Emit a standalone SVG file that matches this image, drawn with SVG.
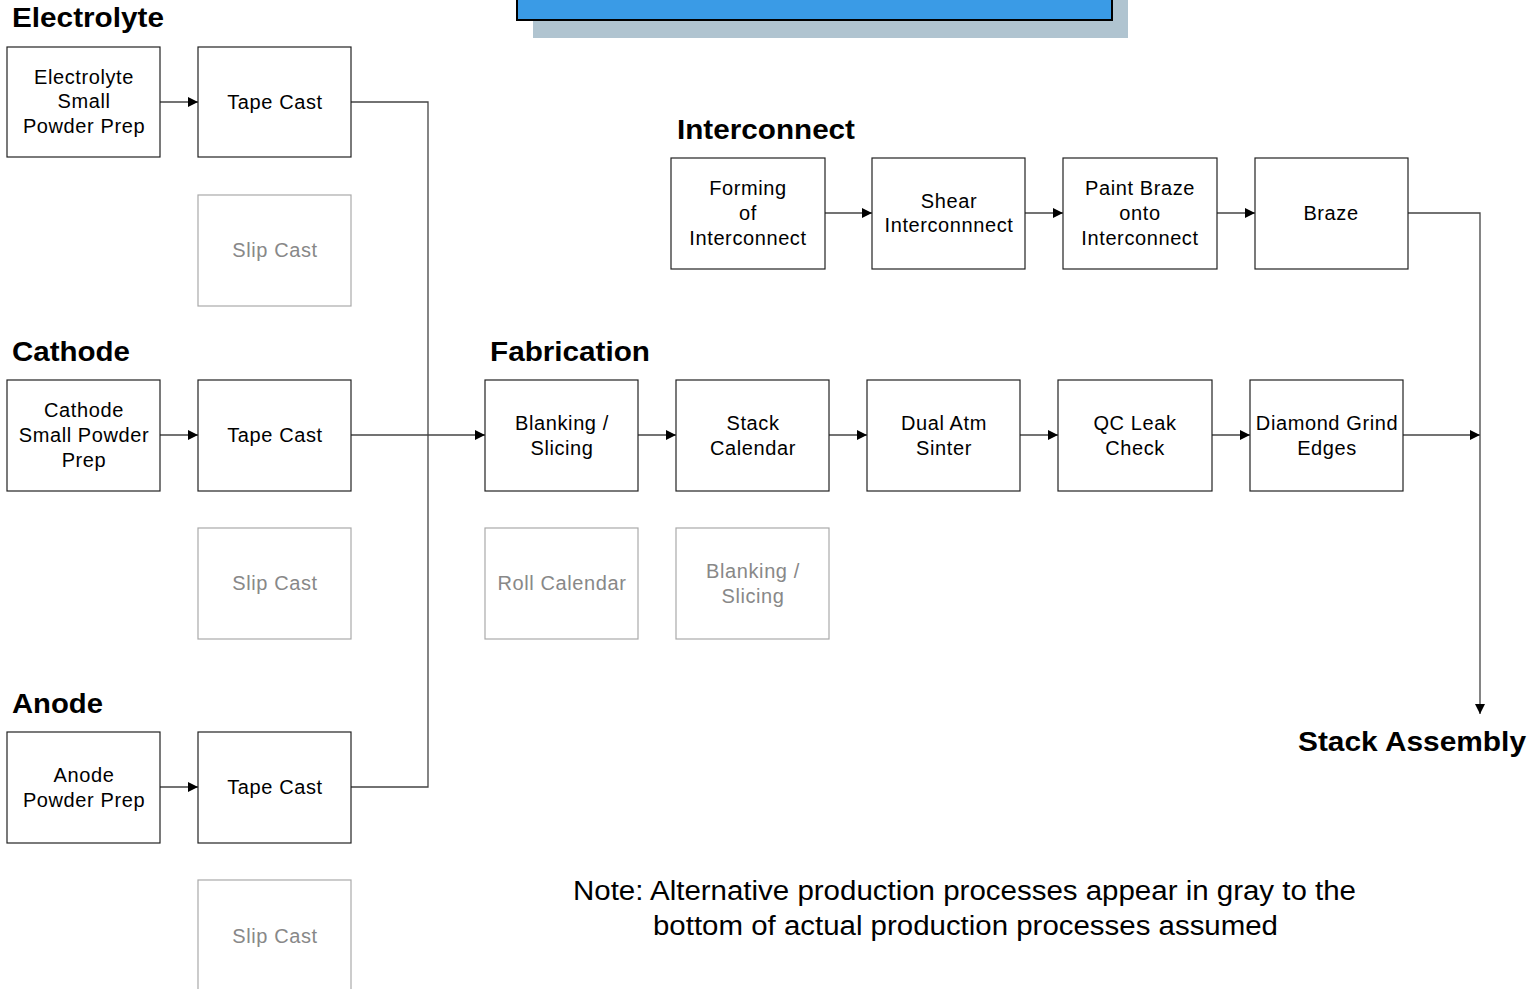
<svg xmlns="http://www.w3.org/2000/svg" width="1536" height="989" viewBox="0 0 1536 989">
<style>
.box{fill:#fff;stroke:#222;stroke-width:1.2}
.gbox{fill:#fff;stroke:#aaa;stroke-width:1.2}
.t{font-family:"Liberation Sans",Arial,sans-serif;font-size:20px;letter-spacing:0.6px;fill:#000;text-anchor:middle}
.gt{font-family:"Liberation Sans",Arial,sans-serif;font-size:20px;letter-spacing:0.6px;fill:#888;text-anchor:middle}
.h{font-family:"Liberation Sans",Arial,sans-serif;font-size:27px;font-weight:bold;fill:#000}
.note{font-family:"Liberation Sans",Arial,sans-serif;font-size:27px;fill:#000}
.c{fill:none;stroke:#444;stroke-width:1.3}
</style>
<defs>
<marker id="ah" markerWidth="10" markerHeight="10" refX="10" refY="5" orient="auto" markerUnits="userSpaceOnUse">
<path d="M0,0 L10,5 L0,10 z" fill="#000"/>
</marker>
</defs>
<rect width="1536" height="989" fill="#fff"/>
<g id="banner">
<rect x="533" y="-10" width="595" height="48" fill="#b0c4d0"/>
<rect x="517" y="-10" width="595" height="30" fill="#3a9be6" stroke="#000" stroke-width="2"/>
</g>
<g id="headings">
<text class="h" x="12" y="27" textLength="152" lengthAdjust="spacingAndGlyphs">Electrolyte</text>
<text class="h" x="12" y="361" textLength="118" lengthAdjust="spacingAndGlyphs">Cathode</text>
<text class="h" x="12" y="713" textLength="91" lengthAdjust="spacingAndGlyphs">Anode</text>
<text class="h" x="677" y="139" textLength="178" lengthAdjust="spacingAndGlyphs">Interconnect</text>
<text class="h" x="490" y="361" textLength="160" lengthAdjust="spacingAndGlyphs">Fabrication</text>
<text class="h" x="1298" y="751" textLength="228" lengthAdjust="spacingAndGlyphs">Stack Assembly</text>
</g>
<g id="connectors">
<path class="c" d="M160,102 H198" marker-end="url(#ah)"/>
<path class="c" d="M160,435 H198" marker-end="url(#ah)"/>
<path class="c" d="M160,787 H198" marker-end="url(#ah)"/>
<path class="c" d="M351,102 H428 V787 H351"/>
<path class="c" d="M351,435 H485" marker-end="url(#ah)"/>
<path class="c" d="M638,435 H676" marker-end="url(#ah)"/>
<path class="c" d="M829,435 H867" marker-end="url(#ah)"/>
<path class="c" d="M1020,435 H1058" marker-end="url(#ah)"/>
<path class="c" d="M1212,435 H1250" marker-end="url(#ah)"/>
<path class="c" d="M1403,435 H1480" marker-end="url(#ah)"/>
<path class="c" d="M825,213 H872" marker-end="url(#ah)"/>
<path class="c" d="M1025,213 H1063" marker-end="url(#ah)"/>
<path class="c" d="M1217,213 H1255" marker-end="url(#ah)"/>
<path class="c" d="M1408,213 H1480 V714" marker-end="url(#ah)"/>
</g>
<g id="e-prep"><rect class="box" x="7" y="47" width="153" height="110"/><text class="t" x="84" y="84">Electrolyte</text><text class="t" x="84" y="108">Small</text><text class="t" x="84" y="133">Powder Prep</text></g>
<g id="e-tape"><rect class="box" x="198" y="47" width="153" height="110"/><text class="t" x="275" y="109">Tape Cast</text></g>
<g id="e-slip"><rect class="gbox" x="198" y="195" width="153" height="111"/><text class="gt" x="275" y="257">Slip Cast</text></g>
<g id="c-prep"><rect class="box" x="7" y="380" width="153" height="111"/><text class="t" x="84" y="417">Cathode</text><text class="t" x="84" y="442">Small Powder</text><text class="t" x="84" y="467">Prep</text></g>
<g id="c-tape"><rect class="box" x="198" y="380" width="153" height="111"/><text class="t" x="275" y="442">Tape Cast</text></g>
<g id="c-slip"><rect class="gbox" x="198" y="528" width="153" height="111"/><text class="gt" x="275" y="590">Slip Cast</text></g>
<g id="a-prep"><rect class="box" x="7" y="732" width="153" height="111"/><text class="t" x="84" y="782">Anode</text><text class="t" x="84" y="807">Powder Prep</text></g>
<g id="a-tape"><rect class="box" x="198" y="732" width="153" height="111"/><text class="t" x="275" y="794">Tape Cast</text></g>
<g id="a-slip"><rect class="gbox" x="198" y="880" width="153" height="120"/><text class="gt" x="275" y="943">Slip Cast</text></g>
<g id="i-form"><rect class="box" x="671" y="158" width="154" height="111"/><text class="t" x="748" y="195">Forming</text><text class="t" x="748" y="220">of</text><text class="t" x="748" y="245">Interconnect</text></g>
<g id="i-shear"><rect class="box" x="872" y="158" width="153" height="111"/><text class="t" x="949" y="208">Shear</text><text class="t" x="949" y="232">Interconnnect</text></g>
<g id="i-paint"><rect class="box" x="1063" y="158" width="154" height="111"/><text class="t" x="1140" y="195">Paint Braze</text><text class="t" x="1140" y="220">onto</text><text class="t" x="1140" y="245">Interconnect</text></g>
<g id="i-braze"><rect class="box" x="1255" y="158" width="153" height="111"/><text class="t" x="1331" y="220">Braze</text></g>
<g id="f-blank"><rect class="box" x="485" y="380" width="153" height="111"/><text class="t" x="562" y="430">Blanking /</text><text class="t" x="562" y="455">Slicing</text></g>
<g id="f-stack"><rect class="box" x="676" y="380" width="153" height="111"/><text class="t" x="753" y="430">Stack</text><text class="t" x="753" y="455">Calendar</text></g>
<g id="f-sinter"><rect class="box" x="867" y="380" width="153" height="111"/><text class="t" x="944" y="430">Dual Atm</text><text class="t" x="944" y="455">Sinter</text></g>
<g id="f-qc"><rect class="box" x="1058" y="380" width="154" height="111"/><text class="t" x="1135" y="430">QC Leak</text><text class="t" x="1135" y="455">Check</text></g>
<g id="f-grind"><rect class="box" x="1250" y="380" width="153" height="111"/><text class="t" x="1327" y="430">Diamond Grind</text><text class="t" x="1327" y="455">Edges</text></g>
<g id="f-roll"><rect class="gbox" x="485" y="528" width="153" height="111"/><text class="gt" x="562" y="590">Roll Calendar</text></g>
<g id="f-blank2"><rect class="gbox" x="676" y="528" width="153" height="111"/><text class="gt" x="753" y="578">Blanking /</text><text class="gt" x="753" y="603">Slicing</text></g>
<g id="note">
<text class="note" x="573" y="900" textLength="783" lengthAdjust="spacingAndGlyphs">Note: Alternative production processes appear in gray to the</text>
<text class="note" x="653" y="935" textLength="625" lengthAdjust="spacingAndGlyphs">bottom of actual production processes assumed</text>
</g>
</svg>
